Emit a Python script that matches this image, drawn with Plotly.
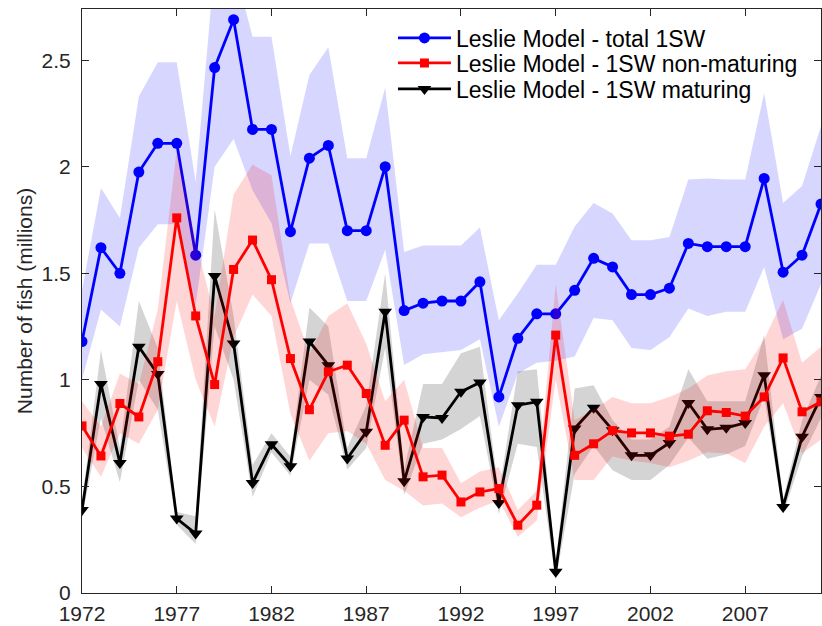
import plotly.graph_objects as go

years = list(range(1972, 2012))

# Total 1SW abundance (millions) with its uncertainty envelope
total_1sw = [1.18, 1.62, 1.50, 1.975, 2.11, 2.11, 1.585, 2.465, 2.69, 2.175,
             2.175, 1.695, 2.04, 2.10, 1.70, 1.70, 2.00, 1.325, 1.36, 1.37,
             1.37, 1.46, 0.92, 1.195, 1.31, 1.31, 1.42, 1.57, 1.53, 1.40,
             1.40, 1.43, 1.64, 1.625, 1.625, 1.625, 1.945, 1.505, 1.585, 1.825]
total_hi = [1.42, 1.90, 1.76, 2.33, 2.49, 2.49, 1.93, 2.95, 2.95, 2.61,
            2.61, 2.05, 2.43, 2.56, 2.04, 2.04, 2.37, 1.60, 1.63, 1.63,
            1.63, 1.715, 1.28, 1.405, 1.54, 1.54, 1.72, 1.83, 1.78, 1.655,
            1.655, 1.67, 1.94, 1.945, 1.94, 1.94, 2.345, 1.83, 1.91, 2.19]
total_lo = [1.00, 1.33, 1.25, 1.62, 1.73, 1.73, 1.35, 2.00, 2.13, 1.89,
            1.735, 1.36, 1.64, 1.64, 1.37, 1.37, 1.61, 1.07, 1.12, 1.13,
            1.14, 1.19, 0.78, 1.03, 1.08, 1.09, 1.11, 1.29, 1.28, 1.15,
            1.14, 1.20, 1.335, 1.30, 1.32, 1.32, 1.53, 1.19, 1.24, 1.45]

# 1SW non-maturing
nonmat = [0.784, 0.643, 0.889, 0.826, 1.085, 1.76, 1.30, 0.978, 1.518, 1.656,
          1.47, 1.10, 0.86, 1.038, 1.069, 0.936, 0.693, 0.811, 0.545, 0.553,
          0.427, 0.474, 0.49, 0.318, 0.412, 1.21, 0.646, 0.70, 0.762, 0.751,
          0.751, 0.736, 0.745, 0.855, 0.847, 0.83, 0.92, 1.103, 0.85, 0.897]
nonmat_hi = [0.90, 0.78, 1.03, 0.98, 1.33, 2.08, 1.65, 1.30, 1.87, 2.01,
             1.96, 1.38, 1.12, 1.30, 1.36, 1.17, 0.90, 1.00, 0.68, 0.68,
             0.515, 0.57, 0.59, 0.39, 0.48, 1.45, 0.81, 0.86, 0.92, 0.89,
             0.89, 0.92, 0.96, 1.02, 1.04, 1.05, 1.19, 1.375, 1.08, 1.155]
nonmat_lo = [0.68, 0.545, 0.75, 0.70, 0.86, 1.37, 1.00, 0.78, 1.20, 1.40,
             1.30, 0.84, 0.62, 0.75, 0.76, 0.70, 0.53, 0.48, 0.41, 0.42,
             0.355, 0.40, 0.435, 0.263, 0.34, 1.00, 0.53, 0.53, 0.64, 0.62,
             0.61, 0.59, 0.62, 0.66, 0.655, 0.61, 0.78, 0.89, 0.655, 0.72]

# 1SW maturing
mat = [0.39, 0.98, 0.61, 1.155, 1.027, 0.349, 0.279, 1.487, 1.171, 0.516,
       0.698, 0.595, 1.18, 1.069, 0.631, 0.756, 1.32, 0.524, 0.826, 0.821,
       0.944, 0.988, 0.422, 0.881, 0.897, 0.10, 0.772, 0.869, 0.764, 0.646,
       0.646, 0.704, 0.892, 0.768, 0.775, 0.798, 1.022, 0.404, 0.733, 0.92]
mat_hi = [0.43, 1.14, 0.68, 1.37, 1.15, 0.38, 0.36, 1.80, 1.30, 0.60,
          0.75, 0.64, 1.34, 1.25, 0.68, 0.88, 1.50, 0.58, 0.98, 0.98,
          1.125, 1.155, 0.47, 1.04, 1.05, 0.14, 0.96, 0.975, 0.81, 0.72,
          0.72, 0.78, 1.05, 0.90, 0.90, 0.90, 1.21, 0.44, 0.81, 1.02]
mat_lo = [0.35, 0.82, 0.52, 1.00, 0.86, 0.32, 0.23, 1.25, 1.00, 0.45,
          0.66, 0.55, 1.00, 0.93, 0.58, 0.68, 1.15, 0.46, 0.70, 0.72,
          0.77, 0.83, 0.37, 0.70, 0.685, 0.06, 0.56, 0.69, 0.576, 0.53,
          0.53, 0.60, 0.73, 0.63, 0.65, 0.69, 0.92, 0.37, 0.64, 0.82]

xtick_vals = [1972, 1977, 1982, 1987, 1992, 1997, 2002, 2007]
ytick_vals = [0, 0.5, 1, 1.5, 2, 2.5]
ytick_text = ["0", "0.5", "1", "1.5", "2", "2.5"]

FONT = "Liberation Sans, Arial, Helvetica, sans-serif"
AXIS_COLOR = "#262626"


def band(lo, hi, fill):
    return go.Scatter(
        x=years + years[::-1],
        y=hi + lo[::-1],
        fill="toself",
        fillcolor=fill,
        line=dict(width=0),
        mode="lines",
        hoverinfo="skip",
        showlegend=False,
    )


def series(y, name, color, symbol, size, legend_id):
    return go.Scatter(
        x=years,
        y=y,
        name=name,
        mode="lines+markers",
        line=dict(color=color, width=2.8),
        marker=dict(color=color, symbol=symbol, size=size),
        legend=legend_id,
    )


fig = go.Figure()
fig.add_trace(band(total_lo, total_hi, "rgba(0,0,255,0.16)"))
fig.add_trace(series(total_1sw, "Leslie Model - total 1SW", "#0000FF", "circle", 11, "legend"))
fig.add_trace(band(mat_lo, mat_hi, "rgba(0,0,0,0.17)"))
fig.add_trace(series(mat, "Leslie Model - 1SW maturing", "#000000", "triangle-down", 12, "legend3"))
fig.add_trace(band(nonmat_lo, nonmat_hi, "rgba(255,0,0,0.16)"))
fig.add_trace(series(nonmat, "Leslie Model - 1SW non-maturing", "#FF0000", "square", 9, "legend2"))

axis_common = dict(
    showline=True,
    linecolor=AXIS_COLOR,
    linewidth=1,
    mirror="ticks",
    ticks="inside",
    ticklen=7,
    tickwidth=1,
    tickcolor=AXIS_COLOR,
    showgrid=False,
    zeroline=False,
    tickfont=dict(family=FONT, size=21, color=AXIS_COLOR),
)

fig.update_xaxes(
    range=[1972, 2011],
    tickmode="array",
    tickvals=xtick_vals,
    ticklabelstandoff=2,
    **axis_common,
)
fig.update_yaxes(
    range=[0, 2.74],
    tickmode="array",
    tickvals=ytick_vals,
    ticktext=ytick_text,
    ticklabelstandoff=6,
    title=dict(text="Number of fish (millions)", standoff=3,
               font=dict(family=FONT, size=21, color=AXIS_COLOR)),
    **axis_common,
)


def legend_box(y):
    return dict(
        x=0.4208,
        y=y,
        xanchor="left",
        yanchor="middle",
        bgcolor="rgba(0,0,0,0)",
        font=dict(family=FONT, size=23, color="#000000"),
        itemwidth=53,
    )


fig.update_layout(
    width=822,
    height=626,
    margin=dict(l=82, r=1, t=9, b=33),
    paper_bgcolor="white",
    plot_bgcolor="white",
    font=dict(family=FONT, color="#000000"),
    legend=legend_box(0.9503),
    legend2=legend_box(0.9075),
    legend3=legend_box(0.8630),
)

fig.write_html("out.html")
